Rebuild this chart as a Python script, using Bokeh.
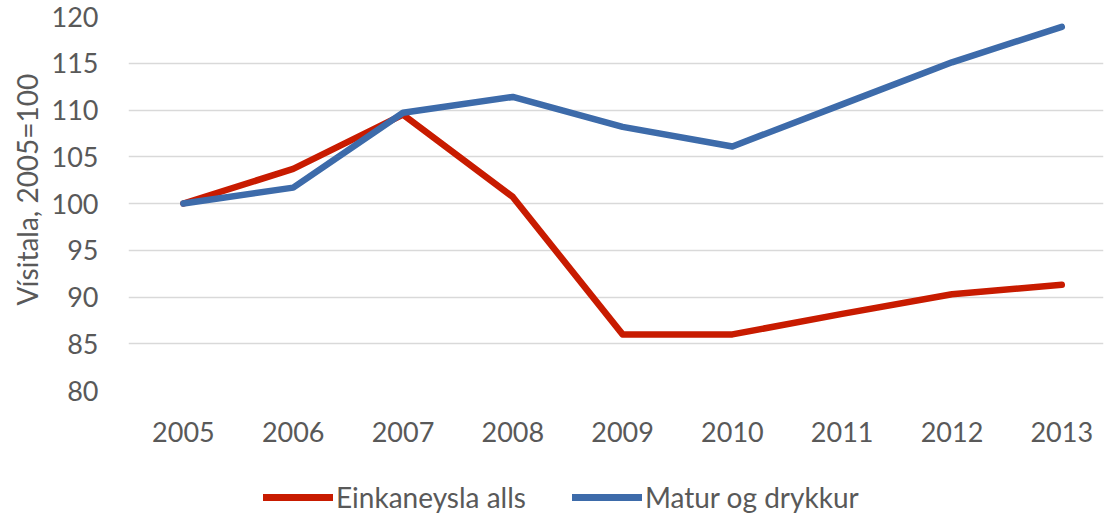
from bokeh.plotting import figure
from bokeh.layouts import column
from bokeh.models import FixedTicker, Legend, LegendItem, Range1d, Title
from bokeh.embed import file_html
from bokeh.resources import INLINE

years = [2005, 2006, 2007, 2008, 2009, 2010, 2011, 2012, 2013]
einkaneysla = [100.0, 103.7, 109.5, 100.7, 86.0, 86.0, 88.2, 90.3, 91.3]
matur = [100.0, 101.7, 109.7, 111.4, 108.2, 106.1, 110.6, 115.1, 118.9]
y_ticks = [80, 85, 90, 95, 100, 105, 110, 115, 120]
series_names = ["Einkaneysla alls", "Matur og drykkur"]
series_colors = ["#C81B00", "#3D6BAA"]
series_values = [einkaneysla, matur]

FONT = "Lato"
GREY = "#595959"

p = figure(width=1111, height=460, output_backend="svg", toolbar_location=None,
           x_range=Range1d(2004.5, 2013.38), y_range=Range1d(80, 120),
           min_border_left=128, min_border_top=16, min_border_right=8, min_border_bottom=70)
p.outline_line_color = None

for vals, col in zip(series_values, series_colors):
    p.line(years, vals, line_color=col, line_width=6.5, line_cap="round", line_join="round")

p.xaxis.ticker = FixedTicker(ticks=years)
p.yaxis.ticker = FixedTicker(ticks=y_ticks)
p.xgrid.grid_line_color = None
p.ygrid.grid_line_color = "#D9D9D9"
p.ygrid.grid_line_width = 1.5

for ax in (p.xaxis[0], p.yaxis[0]):
    ax.axis_line_color = None
    ax.major_tick_line_color = None
    ax.minor_tick_line_color = None
    ax.major_label_text_font = FONT
    ax.major_label_text_font_size = "27px"
    ax.major_label_text_color = GREY

p.xaxis.major_label_standoff = 25
p.yaxis.major_label_standoff = 24

ytitle = Title(text="Vísitala, 2005=100", align="left", offset=85, standoff=9,
               text_font=FONT, text_font_size="28px", text_font_style="normal",
               text_color=GREY)
p.add_layout(ytitle, "left")

# legend strip below the chart (series drawn outside its visible range; only the legend shows)
q = figure(width=1111, height=59, output_backend="svg", toolbar_location=None,
           x_range=Range1d(0, 1), y_range=Range1d(0, 1),
           min_border_left=0, min_border_right=0, min_border_top=0, min_border_bottom=0)
q.axis.visible = False
q.grid.visible = False
q.outline_line_color = None
items = []
for name, col, vals in zip(series_names, series_colors, series_values):
    r = q.line(years, vals, line_color=col, line_width=7, line_cap="round")
    items.append(LegendItem(label=name, renderers=[r]))
legend = Legend(items=items, orientation="horizontal", location=(135, 5),
                label_text_font=FONT, label_text_font_size="28px", label_text_color=GREY,
                glyph_width=70, glyph_height=20, label_standoff=3, spacing=46,
                border_line_color=None, background_fill_alpha=0,
                margin=0, padding=0)
q.add_layout(legend, "center")

layout = column(p, q, spacing=0)
open("out.html", "w").write(file_html(layout, INLINE))
